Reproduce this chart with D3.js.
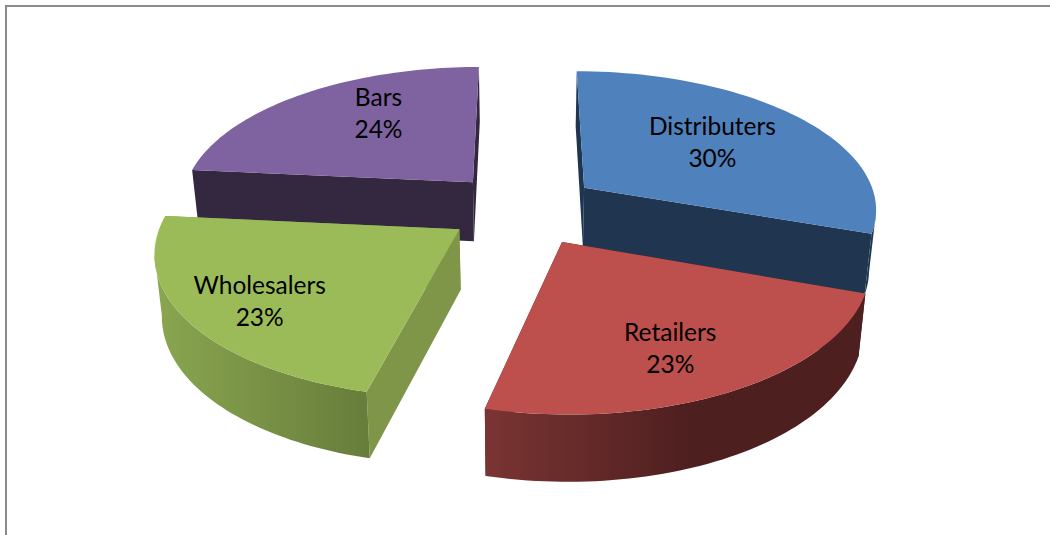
<!DOCTYPE html>
<html>
<head>
<meta charset="utf-8">
<style>
  html, body { margin: 0; padding: 0; background: #fff; overflow: hidden; }
  text { font-family: Lato, "Open Sans", sans-serif; fill: #000; }
</style>
<script src="https://cdn.jsdelivr.net/npm/d3@7"></script>
</head>
<body>
<div id="chart"></div>
<script>
var categories = ['Distributers', 'Retailers', 'Wholesalers', 'Bars'];
var shares = [30.4, 23.4, 22.7, 23.5];

var top_colors = ['#4f81bd', '#bd4f4c', '#9bbb59', '#7f62a0'];
var cut_colors = ['#1f3550', '#4e1f1f', '#7f9649', '#33283f'];
var wall_from = ['#1f3550', '#7a3433', '#8aa650', '#4a3a5e'];
var wall_to = ['#1f3550', '#4e1f1f', '#677d3b', '#33283f'];
var label_nudge = [[-14, 0], [2, 12], [-28, 12], [20, -12]];

var width = 1050;
var height = 535;
var explode = [0.26, 0.27, 0.26, 0.26];
var perspective = 0.14;
var depth = 60;
var depth_power = 0.6;
var bottom_narrow = 0.98;
var label_radius = 0.65;
var font_size = 24.5;
var line_gap = 32;

var x = d3.scaleLinear().domain([0, 1]).range([523, 817]);
var y = d3.scaleLinear().domain([0, 1]).range([208, 346]);

var svg = d3.select('#chart')
  .append('svg')
  .attr('width', width)
  .attr('height', height)
  .style('display', 'block');

var defs = svg.append('defs');

// chart frame, runs off the right and bottom of the window
svg.append('rect')
  .attr('x', 6)
  .attr('y', 6)
  .attr('width', width + 20)
  .attr('height', height + 20)
  .attr('fill', '#fff')
  .attr('stroke', '#8a8a8a')
  .attr('stroke-width', 2);

var slices = d3.pie().sort(null).value(function (d) {return d;})(shares);

// r, angle in pie units around the exploded apex; low = false for top face
function project(slice, r, angle, low) {
  var mid = (slice.startAngle + slice.endAngle) / 2;
  var e = explode[slice.index];
  var wx = e * Math.sin(mid) + r * Math.sin(angle);
  var wz = -e * Math.cos(mid) - r * Math.cos(angle);
  var s = 1 / (1 - perspective * wz);
  var px = x(wx * s);
  if (low) px = x(0) + (px - x(0)) * bottom_narrow;
  return [px, y(wz * s) + (low ? depth * Math.pow(s, depth_power) : 0)];
}

function arcAngles(slice) {
  return d3.range(0, 61).map(function (i) {
    return slice.startAngle + (slice.endAngle - slice.startAngle) * i / 60;
  });
}

function arcPoints(slice, angles, low) {
  return angles.map(function (a) {return project(slice, 1, a, low);});
}

var line = d3.line().curve(d3.curveLinear);

// painter's order: back slices first
var order = [3, 0, 2, 1];

order.forEach(function (i) {
  var d = slices[i];
  var g = svg.append('g').attr('class', 'slice');
  var angles = arcAngles(d);
  var top_arc = arcPoints(d, angles, false);
  var low_arc = arcPoints(d, angles, true);
  var apex_top = project(d, 0, 0, false);
  var apex_low = project(d, 0, 0, true);
  var xs = top_arc.map(function (p) {return p[0];});
  var right_most = angles[d3.maxIndex(xs)];
  var left_most = angles[d3.minIndex(xs)];

  var grad = defs.append('linearGradient')
    .attr('id', 'wall' + i)
    .attr('gradientUnits', 'userSpaceOnUse')
    .attr('x1', d3.min(xs))
    .attr('x2', i == 1 ? 690 : d3.max(xs))
    .attr('y1', 0)
    .attr('y2', 0);
  grad.append('stop').attr('offset', 0).attr('stop-color', wall_from[i]);
  grad.append('stop').attr('offset', 1).attr('stop-color', wall_to[i]);

  // cut faces
  [[top_arc[0], low_arc[0]], [top_arc[60], low_arc[60]]].forEach(function (edge) {
    g.append('path')
      .attr('d', line([apex_top, edge[0], edge[1], apex_low]) + 'Z')
      .attr('fill', cut_colors[i]);
  });

  // outer wall, only between the silhouette points of the rim
  var front = angles.filter(function (a) {
    return a < Math.PI ? a >= right_most : a <= left_most;
  });
  if (front.length > 1) {
    g.append('path')
      .attr('d', line(arcPoints(d, front, false).concat(arcPoints(d, front, true).reverse())) + 'Z')
      .attr('fill', 'url(#wall' + i + ')');
  }

  // top face
  g.append('path')
    .attr('d', line([apex_top].concat(top_arc)) + 'Z')
    .attr('fill', top_colors[i]);
});

// labels
slices.forEach(function (d, i) {
  var mid = (d.startAngle + d.endAngle) / 2;
  var p = project(d, label_radius, mid, false);
  var t = svg.append('text')
    .attr('text-anchor', 'middle')
    .attr('font-size', font_size)
    .attr('transform', 'translate(' + (p[0] + label_nudge[i][0]) + ',' + (p[1] + label_nudge[i][1]) + ')');
  t.append('tspan').attr('x', 0).attr('y', -5).text(categories[i]);
  t.append('tspan').attr('x', 0).attr('y', -5 + line_gap).text(Math.round(d.data) + '%');
});
</script>
</body>
</html>
